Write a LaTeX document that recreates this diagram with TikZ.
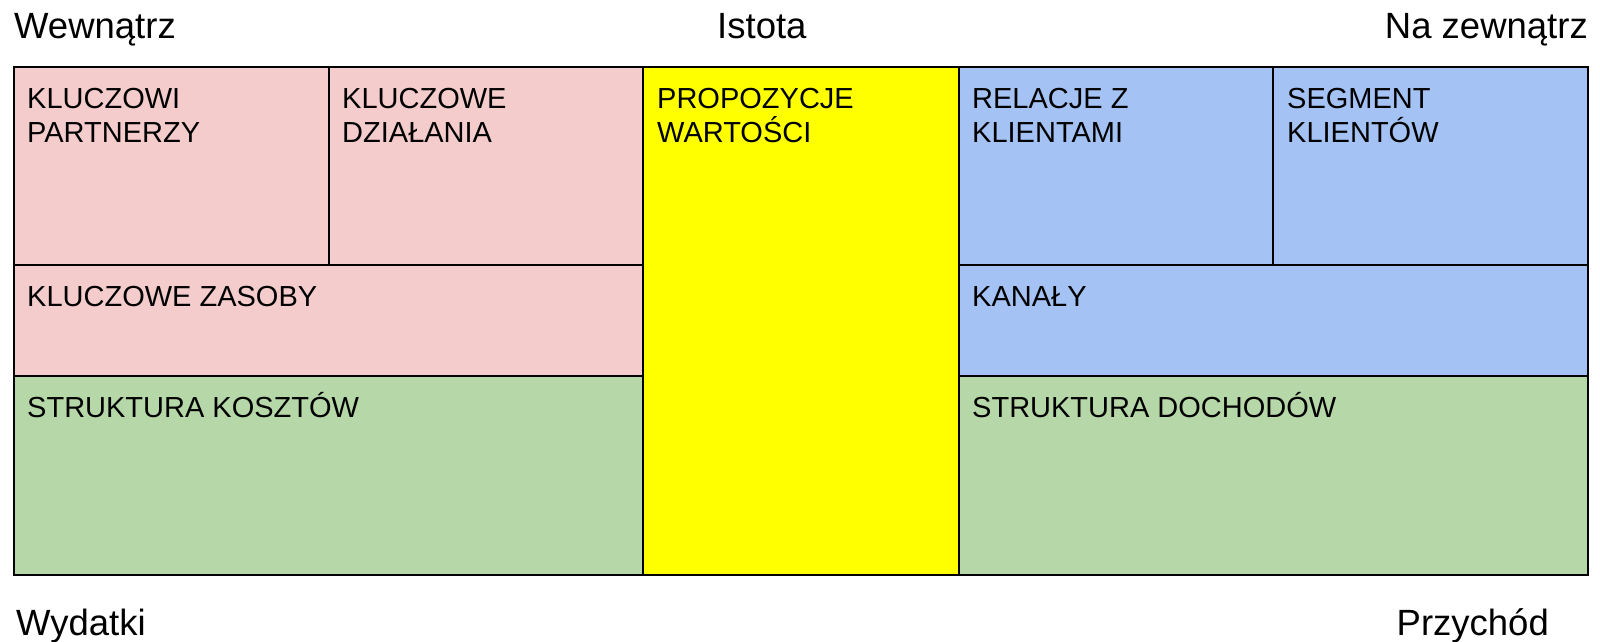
\documentclass[tikz,border=0pt]{standalone}
\usepackage{fontspec}
\setmainfont{Liberation Sans}
\definecolor{cpink}{HTML}{F4CCCC}
\definecolor{cyellow}{HTML}{FFFF00}
\definecolor{cblue}{HTML}{A4C2F4}
\definecolor{cgreen}{HTML}{B6D7A8}
\begin{document}
\begin{tikzpicture}[x=1pt,y=-1pt,
  cell/.style={draw=black, line width=2.6pt},
  lbl/.style={anchor=base west, inner sep=0pt, align=left, font=\fontsize{29}{34.5}\selectfont},
  ttl/.style={inner sep=0pt, font=\fontsize{36.5}{42}\selectfont}]
\useasboundingbox (0,0) rectangle (1600,642);
% cells
\draw[cell, fill=cpink] (14,67) rectangle (329,265);
\draw[cell, fill=cpink] (329,67) rectangle (643,265);
\draw[cell, fill=cpink] (14,265) rectangle (643,376);
\draw[cell, fill=cgreen] (14,376) rectangle (643,575);
\draw[cell, fill=cyellow] (643,67) rectangle (959,575);
\draw[cell, fill=cblue] (959,67) rectangle (1273,265);
\draw[cell, fill=cblue] (1273,67) rectangle (1588,265);
\draw[cell, fill=cblue] (959,265) rectangle (1588,376);
\draw[cell, fill=cgreen] (959,376) rectangle (1588,575);
% labels (two-line labels anchored at the baseline of their last line)
\node[lbl] (kp) at (27,142.5) {KLUCZOWI\\PARTNERZY};
\node[lbl] (kd) at (342,142.5) {KLUCZOWE\\DZIAŁANIA};
\node[lbl] (pw) at (657,142.5) {PROPOZYCJE\\WARTOŚCI};
\node[lbl] (rk) at (972,142.5) {RELACJE Z\\KLIENTAMI};
\node[lbl] (sk) at (1287,142.5) {SEGMENT\\KLIENTÓW};
\node[lbl] (kz) at (27,306) {KLUCZOWE ZASOBY};
\node[lbl] (ka) at (972,306) {KANAŁY};
\node[lbl] (sko) at (27,417) {STRUKTURA KOSZTÓW};
\node[lbl] (sd) at (972,417) {STRUKTURA DOCHODÓW};
% titles
\node[ttl, anchor=base west] (wew) at (14,38) {Wewnątrz};
\node[ttl, anchor=base west] (ist) at (717,38) {Istota};
\node[ttl, anchor=base east] (naz) at (1588,38) {Na zewnątrz};
\node[ttl, anchor=base west] (wyd) at (16,635) {Wydatki};
\node[ttl, anchor=base east] (prz) at (1549,635) {Przychód};
\end{tikzpicture}
\end{document}
